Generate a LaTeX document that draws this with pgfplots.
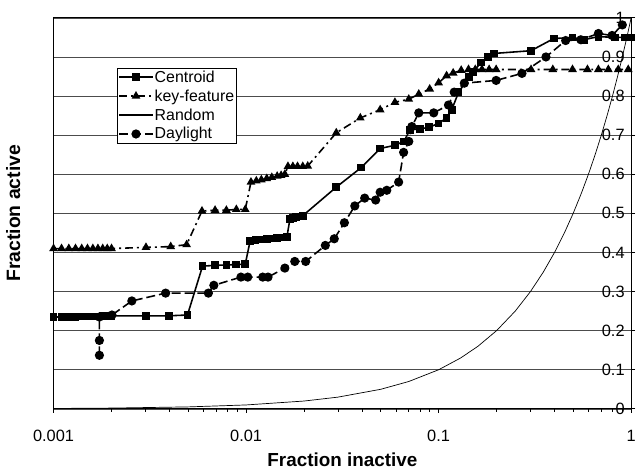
\documentclass[border=0pt]{standalone}
\usepackage{fontspec}
\setmainfont{Liberation Sans}
\usepackage{pgfplots}
\pgfplotsset{compat=1.18}

\begin{document}
\begin{tikzpicture}
\begin{axis}[
    scale only axis,
    width=582pt, height=394pt,
    xmode=log,
    xmin=0.001, xmax=1,
    ymin=0, ymax=1,
    xtick={0.001,0.01,0.1,1},
    xticklabels={0.001,0.01,0.1,1},
    minor xtick={},
    ytick={0,0.1,0.2,0.3,0.4,0.5,0.6,0.7,0.8,0.9,1},
    yticklabels={0,0.1,0.2,0.3,0.4,0.5,0.6,0.7,0.8,0.9,1},
    ymajorgrids,
    grid style={black!70, line width=0.6pt},
    axis line style={black, line width=0.8pt},
    tick style={black, line width=0.8pt},
    tick align=outside,
    major tick length=4pt,
    xtick pos=bottom,
    ytick pos=right,
    yticklabel style={anchor=east, xshift=-7pt, font=\fontsize{16.5}{18}\selectfont},
    xticklabel style={font=\fontsize{16.5}{18}\selectfont, yshift=-14pt},
    xlabel={\textbf{Fraction inactive}},
    ylabel={\textbf{Fraction active}},
    xlabel style={font=\fontsize{19}{21}\selectfont, yshift=-4pt},
    every axis y label/.style={at={(rel axis cs:0,0.5)}, anchor=south, rotate=90,
        yshift=30pt, font=\fontsize{19.5}{21}\selectfont},
    legend cell align=left,
    legend style={at={(0.109,0.872)}, anchor=north west, draw=black, line width=0.5pt,
        inner sep=1.5pt, row sep=4pt,
        nodes={font=\fontsize{16}{17}\selectfont, inner sep=1pt}},
    legend image code/.code={
        \draw[mark repeat=2,mark phase=2,#1] plot coordinates {(0cm,0cm) (0.6cm,0cm) (1.2cm,0cm)};
    },
    legend image post style={line width=1.6pt},
]
% Centroid
\addplot[black, line width=1.6pt, mark=square*, mark size=3.1pt] coordinates {
(0.001,0.235)(0.0011,0.235)(0.0012,0.235)(0.0013,0.235)(0.0014,0.236)(0.0015,0.236)
(0.0016,0.236)(0.0017,0.236)(0.0018,0.237)(0.0019,0.237)(0.002,0.238)
(0.00302,0.238)(0.00396,0.238)(0.00496,0.24)
(0.00594,0.365)(0.0069,0.367)(0.0079,0.368)(0.0089,0.369)(0.0099,0.37)
(0.0105,0.43)(0.0112,0.432)(0.012,0.433)(0.0128,0.434)(0.0136,0.436)(0.0145,0.437)(0.0155,0.438)(0.0163,0.44)
(0.0169,0.486)(0.0175,0.488)(0.0182,0.49)(0.019,0.492)(0.0197,0.494)
(0.0294,0.567)(0.0396,0.617)(0.0497,0.666)(0.0593,0.674)(0.066,0.684)
(0.0711,0.714)(0.08,0.716)(0.089,0.72)(0.1,0.73)(0.11,0.744)(0.117,0.765)
(0.127,0.81)(0.144,0.848)(0.151,0.861)(0.166,0.886)(0.181,0.9)(0.194,0.909)
(0.302,0.916)(0.396,0.947)(0.496,0.95)(0.567,0.944)(0.676,0.952)(0.828,0.95)(0.932,0.95)(1.0,0.95)
};
\addlegendentry{Centroid}
% key-feature
\addplot[black, line width=1.6pt, dash pattern=on 8pt off 4pt on 2pt off 4pt, mark=triangle*, mark size=3.5pt, mark options={solid}] coordinates {
(0.001,0.41)(0.0011,0.41)(0.0012,0.41)(0.0013,0.41)(0.0014,0.41)(0.0015,0.41)
(0.0016,0.41)(0.0017,0.41)(0.0018,0.41)(0.0019,0.41)(0.002,0.41)
(0.00302,0.413)(0.00406,0.415)(0.00491,0.42)
(0.0059,0.506)(0.0069,0.508)(0.0079,0.508)(0.0089,0.51)(0.0099,0.51)
(0.0106,0.58)(0.0113,0.583)(0.012,0.586)(0.0128,0.589)(0.0136,0.592)(0.0145,0.595)(0.0152,0.597)(0.0159,0.6)
(0.0165,0.62)(0.0175,0.62)(0.0185,0.62)(0.0197,0.62)(0.0209,0.621)
(0.0294,0.706)(0.0392,0.744)(0.0497,0.765)(0.0593,0.784)(0.07,0.792)(0.0789,0.805)
(0.0899,0.818)(0.1,0.834)(0.11,0.852)(0.119,0.859)(0.131,0.866)(0.143,0.868)
(0.155,0.868)(0.168,0.868)(0.183,0.868)(0.199,0.868)
(0.302,0.868)(0.392,0.868)(0.496,0.868)(0.593,0.868)(0.676,0.868)(0.761,0.868)(0.857,0.868)(0.966,0.868)
};
\addlegendentry{key-feature}
% Random
\addplot[black, line width=0.7pt, no marks] coordinates {
(0.001,0.001)(0.002,0.002)(0.005,0.005)(0.01,0.01)(0.02,0.02)(0.03,0.03)(0.05,0.05)
(0.07,0.07)(0.1,0.1)(0.13,0.13)(0.16,0.16)(0.2,0.2)(0.25,0.25)(0.3,0.3)(0.35,0.35)
(0.4,0.4)(0.45,0.45)(0.5,0.5)(0.55,0.55)(0.6,0.6)(0.65,0.65)(0.7,0.7)(0.75,0.75)
(0.8,0.8)(0.85,0.85)(0.9,0.9)(0.95,0.95)(1,1)
};
\addlegendentry{Random}
% Daylight
\addplot[black, line width=1.6pt, dash pattern=on 9pt off 4pt, mark=*, mark size=3.8pt, mark options={solid}] coordinates {
(0.00173,0.137)(0.00173,0.175)(0.00173,0.235)(0.00201,0.24)(0.00255,0.276)(0.00382,0.296)
(0.00637,0.296)(0.0068,0.316)(0.0094,0.337)(0.0102,0.337)(0.0122,0.337)(0.013,0.337)
(0.0159,0.36)(0.0179,0.377)(0.0204,0.377)(0.0258,0.418)(0.0287,0.435)(0.0324,0.476)
(0.0367,0.519)(0.0413,0.539)(0.0471,0.534)(0.0497,0.554)(0.0538,0.559)(0.062,0.58)
(0.0658,0.656)(0.07,0.684)(0.0726,0.722)(0.0789,0.757)(0.0943,0.757)(0.1125,0.777)
(0.1205,0.81)(0.136,0.833)(0.199,0.84)(0.271,0.858)(0.361,0.9)(0.457,0.942)
(0.548,0.944)(0.676,0.96)(0.796,0.955)(0.9,0.982)
};
\addlegendentry{Daylight}
\end{axis}
\path[use as bounding box] ([shift={(-54pt,-61pt)}]current axis.south west) rectangle ([shift={(3pt,18pt)}]current axis.north east);
\end{tikzpicture}
\end{document}
